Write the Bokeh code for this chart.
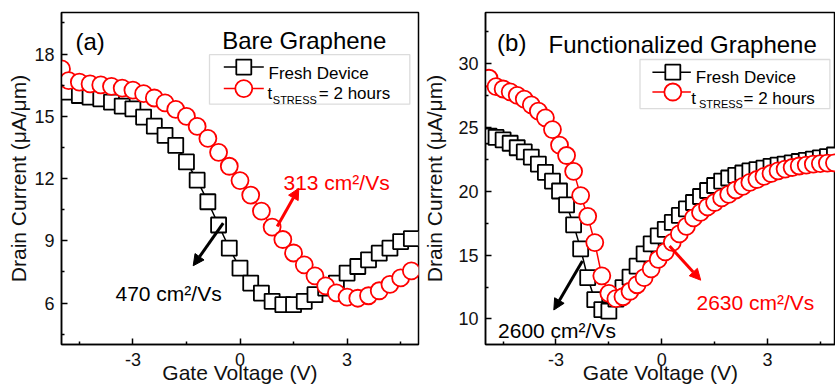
from bokeh.plotting import figure
from bokeh.layouts import row
from bokeh.models import FixedTicker, Label, Arrow, NormalHead, BoxAnnotation
from bokeh.embed import file_html
from bokeh.resources import INLINE

FONT = "Liberation Sans"
RED = "#ff0000"
BLACK = "#000000"

# ---------------- data: panel (a) Bare Graphene ----------------
va_fresh = [-4.8, -4.5, -4.2, -3.9, -3.6, -3.3, -3.0, -2.7, -2.4, -2.1, -1.8,
            -1.5, -1.2, -0.9, -0.6, -0.3, 0.0, 0.3, 0.6, 0.9, 1.2, 1.5, 1.8,
            2.1, 2.4, 2.7, 3.0, 3.3, 3.6, 3.9, 4.2, 4.5, 4.8]
ia_fresh = [16.16, 16.0, 15.92, 15.84, 15.68, 15.49, 15.36, 14.96, 14.52, 14.08,
            13.6, 12.8, 11.92, 10.88, 9.76, 8.64, 7.68, 6.96, 6.48, 6.08, 5.92,
            5.92, 6.08, 6.40, 6.72, 6.96, 7.44, 7.76, 8.08, 8.40, 8.64, 8.96, 9.1]
va_stress = [-5.0, -4.8, -4.5, -4.2, -3.9, -3.6, -3.3, -3.0, -2.7, -2.4, -2.1,
             -1.8, -1.5, -1.2, -0.9, -0.6, -0.3, 0.0, 0.3, 0.6, 0.9, 1.2, 1.5,
             1.8, 2.1, 2.4, 2.7, 3.0, 3.3, 3.6, 3.9, 4.2, 4.5, 4.8]
ia_stress = [17.28, 16.72, 16.64, 16.56, 16.51, 16.44, 16.36, 16.26, 16.09, 15.88,
             15.64, 15.33, 14.99, 14.51, 13.93, 13.26, 12.59, 11.9, 11.2, 10.43,
             9.66, 9.06, 8.41, 7.84, 7.31, 6.83, 6.49, 6.28, 6.23, 6.35, 6.59,
             6.90, 7.21, 7.55]

# ---------------- data: panel (b) Functionalized Graphene ----------------
vb = [-4.9, -4.7, -4.5, -4.3, -4.1, -3.9, -3.7, -3.5, -3.3, -3.1,
      -2.9, -2.7, -2.5, -2.3, -2.1, -1.9, -1.7, -1.5, -1.3, -1.1,
      -0.9, -0.7, -0.5, -0.3, -0.1, 0.1, 0.3, 0.5, 0.7, 0.9,
      1.1, 1.3, 1.5, 1.7, 1.9, 2.1, 2.3, 2.5, 2.7, 2.9,
      3.1, 3.3, 3.5, 3.7, 3.9, 4.1, 4.3, 4.5, 4.7, 4.9]
ib_fresh = [24.32, 24.22, 24.02, 23.76, 23.41, 23.08, 22.68, 22.13, 21.48, 20.79,
            20.02, 18.93, 17.37, 15.49, 13.23, 11.51, 10.73, 10.61, 11.55, 12.45,
            13.27, 14.13, 15.1, 15.88, 16.51, 17.02, 17.56, 18.11, 18.62, 19.12,
            19.59, 20.06, 20.45, 20.8, 21.04, 21.25, 21.43, 21.59, 21.7, 21.82,
            21.95, 22.05, 22.13, 22.23, 22.33, 22.42, 22.52, 22.62, 22.72, 22.84]
ib_stress = [28.85, 28.19, 28.01, 27.79, 27.51, 27.22, 26.77, 26.28, 25.75, 24.83,
             23.62, 22.8, 21.56, 19.66, 18.04, 15.98, 13.38, 12.01, 11.59, 11.74,
             12.17, 12.68, 13.23, 13.93, 14.67, 15.26, 16.0, 16.66, 17.25, 17.91,
             18.34, 18.77, 19.12, 19.48, 19.75, 20.1, 20.38, 20.69, 20.92, 21.16,
             21.39, 21.59, 21.74, 21.86, 21.98, 22.05, 22.13, 22.17, 22.21, 22.23]

x_ticks = [-3, 0, 3]
x_minor = [-4.5, -1.5, 1.5, 4.5]
ya_ticks = [6, 9, 12, 15, 18]
ya_minor = [4.5, 7.5, 10.5, 13.5, 16.5, 19.5]
yb_ticks = [10, 15, 20, 25, 30]
yb_minor = [12.5, 17.5, 22.5, 27.5, 32.5]

series_names = ["Fresh Device", "= 2 hours"]
x_title = "Gate Voltage (V)"
y_title = "Drain Current (\u03bcA/\u03bcm)"


def style(p, yt, ym, ylab_standoff):
    p.xgrid.visible = False
    p.ygrid.visible = False
    p.outline_line_color = BLACK
    p.outline_line_width = 1.5
    p.background_fill_color = "white"
    p.border_fill_color = "white"
    p.xaxis.ticker = FixedTicker(ticks=x_ticks, minor_ticks=x_minor)
    p.yaxis.ticker = FixedTicker(ticks=yt, minor_ticks=ym)
    p.xaxis.major_label_overrides = {t: str(t) for t in x_ticks}
    p.xaxis.axis_label = x_title
    p.yaxis.axis_label = y_title
    for ax in (p.xaxis[0], p.yaxis[0]):
        ax.axis_line_width = 1.5
        ax.axis_line_color = BLACK
        ax.major_tick_in = 6
        ax.major_tick_out = 0
        ax.minor_tick_in = 3
        ax.minor_tick_out = 0
        ax.major_tick_line_width = 1.5
        ax.minor_tick_line_width = 1.5
        ax.major_tick_line_color = BLACK
        ax.minor_tick_line_color = BLACK
        ax.major_label_text_font = FONT
        ax.major_label_text_font_size = "18px"
        ax.major_label_text_color = "#111111"
        ax.axis_label_text_font = FONT
        ax.axis_label_text_font_size = "21px"
        ax.axis_label_text_font_style = "normal"
        ax.axis_label_text_color = "#111111"
    p.xaxis.major_label_standoff = 8
    p.xaxis.axis_label_standoff = -8
    p.yaxis.major_label_standoff = 7
    p.yaxis.axis_label_standoff = ylab_standoff


def series(p, x, y_f, y_s, x_s):
    p.line(x, y_f, line_color=BLACK, line_width=1.5)
    p.scatter(x, y_f, marker="square", size=15, line_color=BLACK,
              line_width=1.8, fill_color="white")
    p.line(x_s, y_s, line_color=RED, line_width=1.5)
    p.scatter(x_s, y_s, marker="circle", size=17, line_color=RED,
              line_width=1.8, fill_color="white")


def text(p, xy, s, size, color=BLACK):
    p.add_layout(Label(x=xy[0], y=xy[1], text=s, text_font=FONT,
                       text_font_size=size, text_color=color,
                       text_align="left", text_baseline="alphabetic"))


def arrow(p, a, b, color):
    p.add_layout(Arrow(x_start=a[0], y_start=a[1], x_end=b[0], y_end=b[1],
                       line_color=color, line_width=3,
                       end=NormalHead(size=11, fill_color=color,
                                      line_color=color, line_width=1)))


def legend(p, cv, box, lx0, lx1, mx, ry1, ry2, t1, t2, sub, t3):
    l, t = cv(box[0], box[1])
    r, b = cv(box[2], box[3])
    p.add_layout(BoxAnnotation(left=l, right=r, top=t, bottom=b,
                               fill_color="white", fill_alpha=1.0,
                               line_color="#8a8a8a", line_width=1.3,
                               level="underlay"))
    for ry, col, mk, sz in ((ry1, BLACK, "square", 15), (ry2, RED, "circle", 17)):
        xa, ya = cv(lx0, ry)
        xb, _ = cv(lx1, ry)
        xm, _ = cv(mx, ry)
        p.segment(x0=[xa], y0=[ya], x1=[xb], y1=[ya], line_color=col, line_width=1.5)
        p.scatter([xm], [ya], marker=mk, size=sz, line_color=col,
                  line_width=1.8, fill_color="white")
    text(p, cv(*t1), series_names[0], "17px")
    text(p, cv(*t2), "t", "17px")
    text(p, cv(*sub), "STRESS", "11px")
    text(p, cv(*t3), series_names[1], "17px")


# pixel -> data helpers for annotation placement (frame geometry)
def cv_a(px, py):
    return (-5 + (px - 61) * 10.0 / 357, 20 - (py - 12) * 16.0 / 333)


def cv_b(px, py):
    return (-5 + (px - 480) * 9.93 / 355, 34 - (py - 10) * 26.0 / 334)


# ---------------- panel (a) ----------------
pa = figure(width=420, height=390, x_range=(-5, 5), y_range=(4, 20),
            output_backend="svg", toolbar_location=None,
            min_border_left=61, min_border_right=2,
            min_border_top=12, min_border_bottom=45)
style(pa, ya_ticks, ya_minor, 1)
series(pa, va_fresh, ia_fresh, ia_stress, va_stress)
text(pa, cv_a(75, 41.5), "(a)", "24px")
text(pa, cv_a(221.7, 40), "Bare Graphene", "24px")
text(pa, cv_a(283, 183), "313 cm\u00b2/Vs", "21px", RED)
text(pa, cv_a(115, 294), "470 cm\u00b2/Vs", "21px", BLACK)
arrow(pa, cv_a(276.7, 226.7), cv_a(298.3, 188.3), RED)
arrow(pa, cv_a(222.7, 223.3), cv_a(192.7, 266), BLACK)
legend(pa, cv_a, (209, 54.3, 409.3, 104), 223.3, 263.3, 243.3, 66.7, 88.3,
       (268, 72.7), (267, 93.3), (272.3, 99.5), (318.3, 93.3))

# ---------------- panel (b) ----------------
pb = figure(width=415, height=390, x_range=(-5, 4.93), y_range=(8, 34),
            output_backend="svg", toolbar_location=None,
            min_border_left=60, min_border_right=0,
            min_border_top=10, min_border_bottom=46)
style(pb, yb_ticks, yb_minor, 9)
series(pb, vb, ib_fresh, ib_stress, vb)
text(pb, cv_b(491.7, 40), "(b)", "24px")
text(pb, cv_b(544, 41.7), "Functionalized Graphene", "24px")
text(pb, cv_b(492.7, 330), "2600 cm\u00b2/Vs", "21px", BLACK)
text(pb, cv_b(694, 301.7), "2630 cm\u00b2/Vs", "21px", RED)
arrow(pb, cv_b(578.3, 260), cv_b(549.3, 309.3), BLACK)
arrow(pb, cv_b(666.7, 245), cv_b(698.3, 279.3), RED)
legend(pb, cv_b, (636.7, 57.3, 829.3, 106.7), 649.3, 688.3, 670, 70, 90,
       (693.3, 75), (688.7, 96.7), (696.5, 102.5), (741.7, 96.7))

layout = row(pa, pb)
open("out.html", "w").write(file_html(layout, INLINE))
